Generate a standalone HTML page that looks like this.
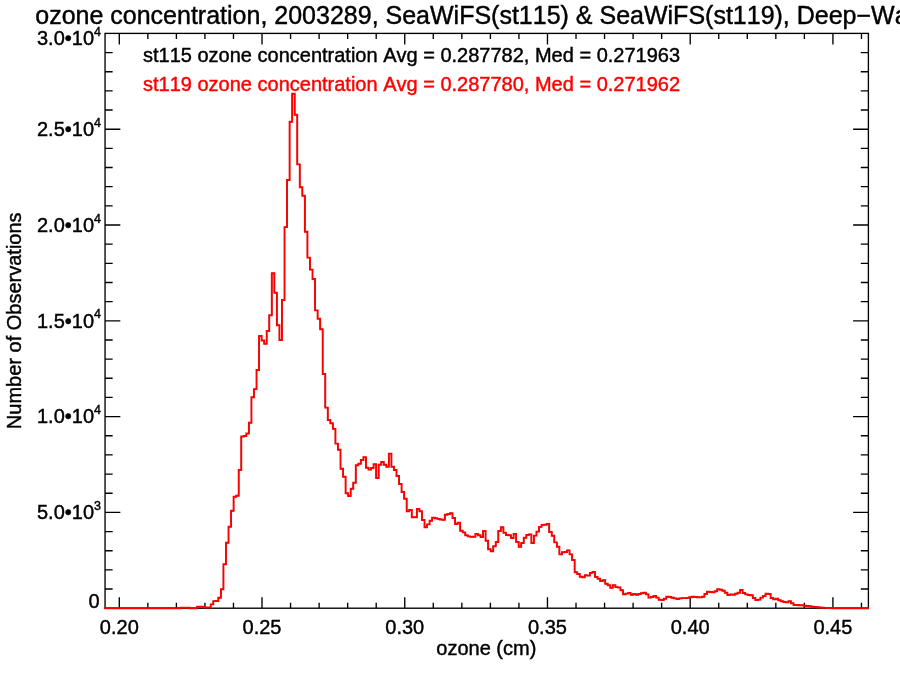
<!DOCTYPE html>
<html lang="en"><head><meta charset="utf-8"><title>ozone concentration histogram</title>
<style>html,body{margin:0;padding:0;background:#fff}body{width:900px;height:675px;overflow:hidden}svg{display:block}text{font-family:"Liberation Sans",Arial,Helvetica,sans-serif;fill:#000;font-kerning:none;stroke:#000;stroke-width:0.42px}</style></head><body>
<svg width="900" height="675" viewBox="0 0 900 675">
<rect width="900" height="675" fill="#fff"/>
<text x="35.25" y="23.5" font-size="25">ozone concentration, 2003289, SeaWiFS(st115) &amp; SeaWiFS(st119), Deep−Water</text>
<g stroke="#000" stroke-width="1.35" fill="none" stroke-linecap="butt">
<rect x="105.05" y="33.4" width="763.35" height="574.80"/>
<path d="M119.30,608.2v-11.0M119.30,33.4v11.0M147.84,608.2v-5.5M147.84,33.4v5.5M176.39,608.2v-5.5M176.39,33.4v5.5M204.94,608.2v-5.5M204.94,33.4v5.5M233.48,608.2v-5.5M233.48,33.4v5.5M262.02,608.2v-11.0M262.02,33.4v11.0M290.57,608.2v-5.5M290.57,33.4v5.5M319.12,608.2v-5.5M319.12,33.4v5.5M347.66,608.2v-5.5M347.66,33.4v5.5M376.20,608.2v-5.5M376.20,33.4v5.5M404.75,608.2v-11.0M404.75,33.4v11.0M433.29,608.2v-5.5M433.29,33.4v5.5M461.84,608.2v-5.5M461.84,33.4v5.5M490.39,608.2v-5.5M490.39,33.4v5.5M518.93,608.2v-5.5M518.93,33.4v5.5M547.47,608.2v-11.0M547.47,33.4v11.0M576.02,608.2v-5.5M576.02,33.4v5.5M604.56,608.2v-5.5M604.56,33.4v5.5M633.11,608.2v-5.5M633.11,33.4v5.5M661.65,608.2v-5.5M661.65,33.4v5.5M690.20,608.2v-11.0M690.20,33.4v11.0M718.74,608.2v-5.5M718.74,33.4v5.5M747.29,608.2v-5.5M747.29,33.4v5.5M775.83,608.2v-5.5M775.83,33.4v5.5M804.38,608.2v-5.5M804.38,33.4v5.5M832.92,608.2v-11.0M832.92,33.4v11.0M861.47,608.2v-5.5M861.47,33.4v5.5M105.05,589.04h7.6M868.4,589.04h-7.6M105.05,569.88h7.6M868.4,569.88h-7.6M105.05,550.72h7.6M868.4,550.72h-7.6M105.05,531.56h7.6M868.4,531.56h-7.6M105.05,512.40h15.3M868.4,512.40h-15.3M105.05,493.24h7.6M868.4,493.24h-7.6M105.05,474.08h7.6M868.4,474.08h-7.6M105.05,454.92h7.6M868.4,454.92h-7.6M105.05,435.76h7.6M868.4,435.76h-7.6M105.05,416.60h15.3M868.4,416.60h-15.3M105.05,397.44h7.6M868.4,397.44h-7.6M105.05,378.28h7.6M868.4,378.28h-7.6M105.05,359.12h7.6M868.4,359.12h-7.6M105.05,339.96h7.6M868.4,339.96h-7.6M105.05,320.80h15.3M868.4,320.80h-15.3M105.05,301.64h7.6M868.4,301.64h-7.6M105.05,282.48h7.6M868.4,282.48h-7.6M105.05,263.32h7.6M868.4,263.32h-7.6M105.05,244.16h7.6M868.4,244.16h-7.6M105.05,225.00h15.3M868.4,225.00h-15.3M105.05,205.84h7.6M868.4,205.84h-7.6M105.05,186.68h7.6M868.4,186.68h-7.6M105.05,167.52h7.6M868.4,167.52h-7.6M105.05,148.36h7.6M868.4,148.36h-7.6M105.05,129.20h15.3M868.4,129.20h-15.3M105.05,110.04h7.6M868.4,110.04h-7.6M105.05,90.88h7.6M868.4,90.88h-7.6M105.05,71.72h7.6M868.4,71.72h-7.6M105.05,52.56h7.6M868.4,52.56h-7.6"/>
</g>
<path d="M104.05,608.20 H180.7 V607.8 H189.6 V608.20 H197.1 V606.7 H204.7 V607.5 H210.72 V604.40 H213.26 V601.10 H215.81 V601.00 H218.35 V597.80 H220.90 V589.20 H223.44 V564.30 H225.99 V542.80 H228.53 V526.70 H231.08 V510.80 H233.62 V496.70 H236.17 V495.70 H238.71 V470.00 H241.26 V436.50 H243.81 V436.00 H246.35 V433.50 H248.89 V422.70 H251.44 V397.30 H253.98 V389.10 H256.53 V370.00 H259.07 V336.00 H261.62 V340.50 H264.16 V343.70 H266.71 V331.00 H269.25 V315.30 H271.80 V273.30 H274.34 V292.70 H276.89 V325.30 H279.44 V340.00 H281.98 V300.00 H284.52 V227.10 H287.07 V180.00 H289.62 V121.80 H292.16 V93.80 H294.70 V114.70 H297.25 V164.40 H299.79 V187.30 H302.34 V195.70 H304.88 V231.70 H307.43 V257.60 H309.97 V269.60 H312.52 V279.00 H315.06 V310.40 H317.61 V318.70 H320.15 V329.30 H322.70 V374.00 H325.25 V407.60 H327.79 V420.00 H330.33 V423.30 H332.88 V428.90 H335.43 V443.60 H337.97 V449.80 H340.51 V468.70 H343.06 V476.70 H345.61 V493.30 H348.15 V496.00 H350.69 V488.70 H353.24 V482.70 H355.78 V465.30 H358.33 V463.70 H360.88 V460.00 H363.42 V457.30 H365.96 V467.70 H368.51 V469.60 H371.06 V468.00 H373.60 V464.30 H376.14 V478.00 H378.69 V464.70 H381.24 V462.00 H383.78 V464.70 H386.32 V466.70 H388.87 V453.60 H391.41 V466.70 H393.96 V470.00 H396.50 V476.00 H399.05 V484.00 H401.59 V492.00 H404.14 V498.70 H406.69 V511.30 H409.23 V510.00 H411.77 V517.30 H414.32 V517.30 H416.87 V509.00 H419.41 V511.30 H421.95 V520.00 H424.50 V527.30 H427.04 V524.40 H429.59 V520.70 H432.13 V517.60 H434.68 V518.30 H437.22 V518.90 H439.77 V519.50 H442.31 V519.90 H444.86 V514.70 H447.40 V514.00 H449.95 V513.30 H452.50 V518.00 H455.04 V524.00 H457.58 V522.70 H460.13 V530.70 H462.67 V532.40 H465.22 V535.30 H467.76 V536.40 H470.31 V536.90 H472.86 V536.70 H475.40 V534.00 H477.94 V535.30 H480.49 V537.00 H483.03 V531.00 H485.58 V540.70 H488.12 V549.30 H490.67 V551.30 H493.21 V546.30 H495.76 V542.00 H498.30 V531.00 H500.85 V527.30 H503.39 V532.70 H505.94 V535.00 H508.49 V535.30 H511.03 V538.00 H513.58 V534.00 H516.12 V542.00 H518.66 V546.70 H521.21 V543.00 H523.75 V537.70 H526.30 V535.00 H528.85 V534.40 H531.39 V543.00 H533.93 V535.60 H536.48 V531.60 H539.02 V526.90 H541.57 V524.90 H544.12 V524.70 H546.66 V524.00 H549.20 V532.00 H551.75 V535.70 H554.29 V542.40 H556.84 V546.70 H559.38 V554.40 H561.93 V552.30 H564.48 V552.00 H567.02 V550.40 H569.56 V554.40 H572.11 V560.00 H574.65 V572.30 H577.20 V574.00 H579.75 V576.70 H582.29 V577.30 H584.84 V575.30 H587.38 V575.60 H589.92 V572.90 H592.47 V572.00 H595.01 V577.00 H597.56 V578.70 H600.11 V581.00 H602.65 V580.20 H605.19 V583.80 H607.74 V585.30 H610.28 V587.80 H612.83 V585.30 H615.38 V587.10 H617.92 V587.50 H620.46 V590.20 H623.01 V594.30 H625.56 V593.60 H628.10 V592.90 H630.64 V594.70 H633.19 V594.00 H635.73 V594.70 H638.28 V594.00 H640.83 V593.30 H643.37 V592.70 H645.91 V594.40 H648.46 V597.60 H651.00 V597.00 H653.55 V596.00 H656.10 V597.60 H658.64 V599.70 H661.18 V600.00 H663.73 V598.70 H666.27 V596.70 H668.82 V597.00 H671.37 V597.70 H673.91 V598.40 H676.45 V599.00 H679.00 V598.40 H681.54 V598.10 H684.09 V598.10 H686.63 V597.90 H689.18 V597.30 H691.72 V596.70 H694.27 V597.00 H696.82 V597.30 H699.36 V597.40 H701.90 V596.70 H704.45 V594.00 H707.00 V591.70 H709.54 V592.00 H712.09 V592.40 H714.63 V591.30 H717.17 V589.30 H719.72 V589.70 H722.26 V590.70 H724.81 V592.70 H727.36 V595.00 H729.90 V594.40 H732.44 V594.70 H734.99 V593.70 H737.53 V592.70 H740.08 V590.00 H742.62 V593.00 H745.17 V594.40 H747.71 V595.00 H750.26 V595.30 H752.80 V598.00 H755.35 V600.00 H757.89 V599.60 H760.44 V597.60 H762.98 V596.00 H765.53 V593.70 H768.08 V594.00 H770.62 V598.00 H773.16 V599.30 H775.71 V598.70 H778.25 V600.30 H780.80 V601.30 H783.35 V602.00 H785.89 V602.40 H788.43 V601.30 H790.98 V603.30 H793.52 V605.00 H796.07 V605.00 H798.62 V605.30 H801.16 V605.30 H803.70 V605.70 H806.25 V606.00 H808.79 V606.30 H811.34 V606.70 H813.88 V607.00 H816.43 V607.30 H818.97 V607.50 H821.52 V607.70 H824.07 V607.90 H826.61 V608.00 H829.15 V608.10 H831.70 V608.20 H834.24 V608.20 H869.00" fill="none" stroke="#000" stroke-width="1" stroke-linejoin="miter"/>
<path d="M104.05,608.20 H180.7 V607.8 H189.6 V608.20 H197.1 V606.7 H204.7 V607.5 H210.72 V604.40 H213.26 V601.10 H215.81 V601.00 H218.35 V597.80 H220.90 V589.20 H223.44 V564.30 H225.99 V542.80 H228.53 V526.70 H231.08 V510.80 H233.62 V496.70 H236.17 V495.70 H238.71 V470.00 H241.26 V436.50 H243.81 V436.00 H246.35 V433.50 H248.89 V422.70 H251.44 V397.30 H253.98 V389.10 H256.53 V370.00 H259.07 V336.00 H261.62 V340.50 H264.16 V343.70 H266.71 V331.00 H269.25 V315.30 H271.80 V273.30 H274.34 V292.70 H276.89 V325.30 H279.44 V340.00 H281.98 V300.00 H284.52 V227.10 H287.07 V180.00 H289.62 V121.80 H292.16 V93.80 H294.70 V114.70 H297.25 V164.40 H299.79 V187.30 H302.34 V195.70 H304.88 V231.70 H307.43 V257.60 H309.97 V269.60 H312.52 V279.00 H315.06 V310.40 H317.61 V318.70 H320.15 V329.30 H322.70 V374.00 H325.25 V407.60 H327.79 V420.00 H330.33 V423.30 H332.88 V428.90 H335.43 V443.60 H337.97 V449.80 H340.51 V468.70 H343.06 V476.70 H345.61 V493.30 H348.15 V496.00 H350.69 V488.70 H353.24 V482.70 H355.78 V465.30 H358.33 V463.70 H360.88 V460.00 H363.42 V457.30 H365.96 V467.70 H368.51 V469.60 H371.06 V468.00 H373.60 V464.30 H376.14 V478.00 H378.69 V464.70 H381.24 V462.00 H383.78 V464.70 H386.32 V466.70 H388.87 V453.60 H391.41 V466.70 H393.96 V470.00 H396.50 V476.00 H399.05 V484.00 H401.59 V492.00 H404.14 V498.70 H406.69 V511.30 H409.23 V510.00 H411.77 V517.30 H414.32 V517.30 H416.87 V509.00 H419.41 V511.30 H421.95 V520.00 H424.50 V527.30 H427.04 V524.40 H429.59 V520.70 H432.13 V517.60 H434.68 V518.30 H437.22 V518.90 H439.77 V519.50 H442.31 V519.90 H444.86 V514.70 H447.40 V514.00 H449.95 V513.30 H452.50 V518.00 H455.04 V524.00 H457.58 V522.70 H460.13 V530.70 H462.67 V532.40 H465.22 V535.30 H467.76 V536.40 H470.31 V536.90 H472.86 V536.70 H475.40 V534.00 H477.94 V535.30 H480.49 V537.00 H483.03 V531.00 H485.58 V540.70 H488.12 V549.30 H490.67 V551.30 H493.21 V546.30 H495.76 V542.00 H498.30 V531.00 H500.85 V527.30 H503.39 V532.70 H505.94 V535.00 H508.49 V535.30 H511.03 V538.00 H513.58 V534.00 H516.12 V542.00 H518.66 V546.70 H521.21 V543.00 H523.75 V537.70 H526.30 V535.00 H528.85 V534.40 H531.39 V543.00 H533.93 V535.60 H536.48 V531.60 H539.02 V526.90 H541.57 V524.90 H544.12 V524.70 H546.66 V524.00 H549.20 V532.00 H551.75 V535.70 H554.29 V542.40 H556.84 V546.70 H559.38 V554.40 H561.93 V552.30 H564.48 V552.00 H567.02 V550.40 H569.56 V554.40 H572.11 V560.00 H574.65 V572.30 H577.20 V574.00 H579.75 V576.70 H582.29 V577.30 H584.84 V575.30 H587.38 V575.60 H589.92 V572.90 H592.47 V572.00 H595.01 V577.00 H597.56 V578.70 H600.11 V581.00 H602.65 V580.20 H605.19 V583.80 H607.74 V585.30 H610.28 V587.80 H612.83 V585.30 H615.38 V587.10 H617.92 V587.50 H620.46 V590.20 H623.01 V594.30 H625.56 V593.60 H628.10 V592.90 H630.64 V594.70 H633.19 V594.00 H635.73 V594.70 H638.28 V594.00 H640.83 V593.30 H643.37 V592.70 H645.91 V594.40 H648.46 V597.60 H651.00 V597.00 H653.55 V596.00 H656.10 V597.60 H658.64 V599.70 H661.18 V600.00 H663.73 V598.70 H666.27 V596.70 H668.82 V597.00 H671.37 V597.70 H673.91 V598.40 H676.45 V599.00 H679.00 V598.40 H681.54 V598.10 H684.09 V598.10 H686.63 V597.90 H689.18 V597.30 H691.72 V596.70 H694.27 V597.00 H696.82 V597.30 H699.36 V597.40 H701.90 V596.70 H704.45 V594.00 H707.00 V591.70 H709.54 V592.00 H712.09 V592.40 H714.63 V591.30 H717.17 V589.30 H719.72 V589.70 H722.26 V590.70 H724.81 V592.70 H727.36 V595.00 H729.90 V594.40 H732.44 V594.70 H734.99 V593.70 H737.53 V592.70 H740.08 V590.00 H742.62 V593.00 H745.17 V594.40 H747.71 V595.00 H750.26 V595.30 H752.80 V598.00 H755.35 V600.00 H757.89 V599.60 H760.44 V597.60 H762.98 V596.00 H765.53 V593.70 H768.08 V594.00 H770.62 V598.00 H773.16 V599.30 H775.71 V598.70 H778.25 V600.30 H780.80 V601.30 H783.35 V602.00 H785.89 V602.40 H788.43 V601.30 H790.98 V603.30 H793.52 V605.00 H796.07 V605.00 H798.62 V605.30 H801.16 V605.30 H803.70 V605.70 H806.25 V606.00 H808.79 V606.30 H811.34 V606.70 H813.88 V607.00 H816.43 V607.30 H818.97 V607.50 H821.52 V607.70 H824.07 V607.90 H826.61 V608.00 H829.15 V608.10 H831.70 V608.20 H834.24 V608.20 H869.00" fill="none" stroke="#f00" stroke-width="1.9" stroke-linejoin="miter"/>
<text x="119.30" y="634" font-size="20" text-anchor="middle">0.20</text>
<text x="262.02" y="634" font-size="20" text-anchor="middle">0.25</text>
<text x="404.75" y="634" font-size="20" text-anchor="middle">0.30</text>
<text x="547.47" y="634" font-size="20" text-anchor="middle">0.35</text>
<text x="690.20" y="634" font-size="20" text-anchor="middle">0.40</text>
<text x="832.92" y="634" font-size="20" text-anchor="middle">0.45</text>
<text x="486.3" y="655" font-size="20" text-anchor="middle">ozone (cm)</text>
<text x="101" y="44.90" font-size="20" text-anchor="end">3.0•10<tspan font-size="12.5" dy="-9.3">4</tspan></text>
<text x="101" y="136.00" font-size="20" text-anchor="end">2.5•10<tspan font-size="12.5" dy="-9.3">4</tspan></text>
<text x="101" y="231.80" font-size="20" text-anchor="end">2.0•10<tspan font-size="12.5" dy="-9.3">4</tspan></text>
<text x="101" y="327.60" font-size="20" text-anchor="end">1.5•10<tspan font-size="12.5" dy="-9.3">4</tspan></text>
<text x="101" y="423.40" font-size="20" text-anchor="end">1.0•10<tspan font-size="12.5" dy="-9.3">4</tspan></text>
<text x="101" y="519.20" font-size="20" text-anchor="end">5.0•10<tspan font-size="12.5" dy="-9.3">3</tspan></text>
<text x="99.7" y="608.3" font-size="20" text-anchor="end">0</text>
<text transform="translate(21.0,320.8) rotate(-90)" font-size="20" text-anchor="middle">Number of Observations</text>
<text x="143.0" y="61.6" font-size="20">st115 ozone concentration Avg = 0.287782, Med = 0.271963</text>
<text x="143.0" y="90.6" font-size="20" style="fill:#f00;stroke:#f00">st119 ozone concentration Avg = 0.287780, Med = 0.271962</text>
</svg></body></html>
